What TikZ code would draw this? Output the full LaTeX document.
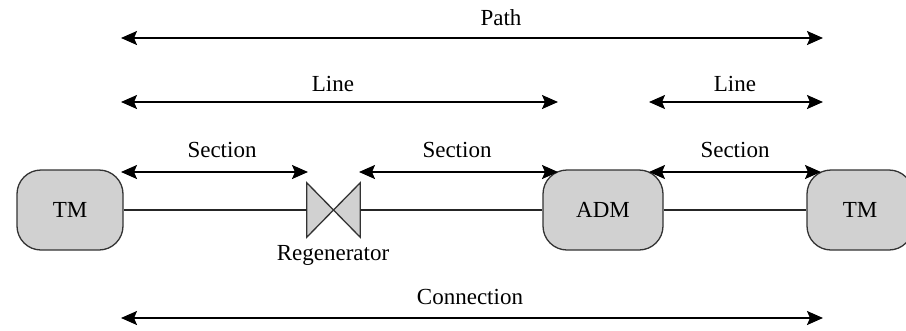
\documentclass[tikz,border=0pt]{standalone}
\usepackage{fontspec}
\setmainfont{Liberation Serif}
\usetikzlibrary{arrows.meta}
\begin{document}
\begin{tikzpicture}[x=1pt,y=-1pt,
  box/.style={draw=black!80,line width=1.3pt,fill=black!18,rounded corners=24pt,
    minimum width=106pt,minimum height=80pt,inner sep=0pt,font=\fontsize{23}{26}\selectfont},
  dim/.style={line width=1.8pt,{Stealth[length=16pt,width=14pt,inset=3pt]}-{Stealth[length=16pt,width=14pt,inset=3pt]}},
  wire/.style={line width=1.1pt,black!85},
  lab/.style={font=\fontsize{23}{26}\selectfont,inner sep=0pt}]
\useasboundingbox (0,0) rectangle (906,330);
% devices
\node[box] (tm1) at (70,210) {TM};
\node[box,minimum width=120pt] (adm) at (603,210) {ADM};
\node[box] (tm2) at (860,210) {TM};
\node[minimum width=53pt,minimum height=54pt,inner sep=0pt] (reg) at (333.5,210) {};
\filldraw[fill=black!18,draw=black!80,line width=1.3pt]
  (reg.north west) -- (reg.south west) -- (reg.center) -- cycle
  (reg.north east) -- (reg.south east) -- (reg.center) -- cycle;
\node[lab] (reglab) at (333,255) {Regenerator};
% wires
\draw[wire] (tm1.east) -- (reg.west);
\draw[wire] (reg.east) -- (adm.west);
\draw[wire] (adm.east) -- (tm2.west);
% dimension end points
\coordinate (pa) at (121,38);  \coordinate (pb) at (823,38);
\coordinate (la) at (121,102); \coordinate (lb) at (558,102);
\coordinate (lc) at (649,102); \coordinate (ld) at (823,102);
\coordinate (sa) at (121,172); \coordinate (sb) at (308,172);
\coordinate (sc) at (359,172); \coordinate (sd) at (558,172);
\coordinate (se) at (649,172); \coordinate (sf) at (821,172);
\coordinate (ca) at (121,318); \coordinate (cb) at (823,318);
\draw[dim] (pa) -- (pb);
\draw[dim] (la) -- (lb);
\draw[dim] (lc) -- (ld);
\draw[dim] (sa) -- (sb);
\draw[dim] (sc) -- (sd);
\draw[dim] (se) -- (sf);
\draw[dim] (ca) -- (cb);
% labels
\node[lab] (tpath) at (501,18) {Path};
\node[lab] (tline1) at (333,84) {Line};
\node[lab] (tline2) at (735,84) {Line};
\node[lab] (tsec1) at (222,150) {Section};
\node[lab] (tsec2) at (457,150) {Section};
\node[lab] (tsec3) at (735,150) {Section};
\node[lab] (tconn) at (470,297) {Connection};
\end{tikzpicture}
\end{document}
